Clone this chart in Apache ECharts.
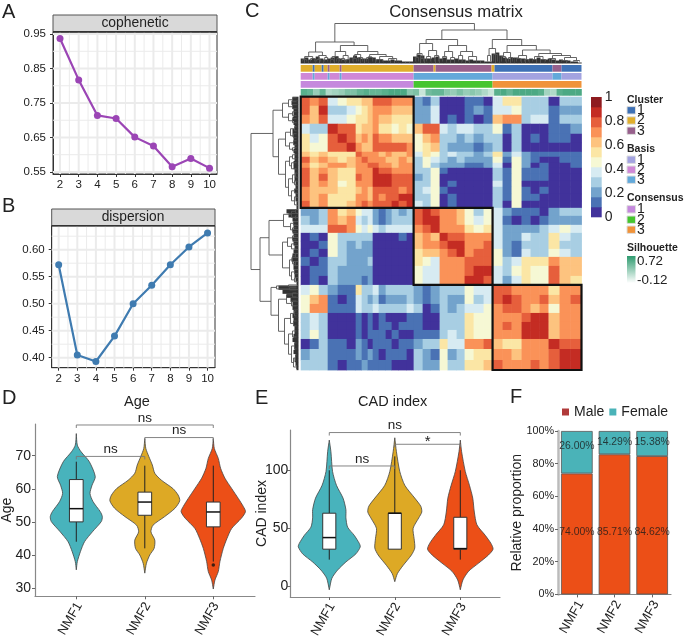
<!DOCTYPE html>
<html><head><meta charset="utf-8">
<script src="https://cdn.jsdelivr.net/npm/echarts@6/dist/echarts.min.js"></script>
<style>html,body{margin:0;padding:0;background:#fff}#c{width:685px;height:638px}</style>
</head><body><div id="c"></div>
<script>
const FONT='"Liberation Sans",Arial,sans-serif', INK='#222';
// ---------- A / B ----------
const rankValues=[2,3,4,5,6,7,8,9,10];
const copheneticValues=[.937,.817,.714,.705,.651,.625,.565,.589,.561];
const dispersionValues=[.572,.405,.393,.440,.500,.534,.572,.605,.631];
const copheneticTicks=[.55,.65,.75,.85,.95];
const copheneticMinor=[.6,.7,.8,.9];
const dispersionTicks=[.40,.45,.50,.55,.60];
const dispersionMinor=[.425,.475,.525,.575,.625];
const rankMinor=[2.5,3.5,4.5,5.5,6.5,7.5,8.5,9.5];
// ---------- D ----------
const groups=['NMF1','NMF2','NMF3'];
const ageViolin1=[[76.7,0],[73.2,.015],[71.2,.07],[68.2,.19],[63.7,.277],[61.1,.23],[58.6,.2],[56.1,.245],[53.1,.35],[51.6,.38],[50.1,.365],[47,.235],[44,.12],[41,.06],[38,.015],[35.5,0]];
const ageViolin2=[[75.2,0],[72.2,.015],[69.7,.06],[67.2,.11],[64.7,.146],[62.6,.243],[60.1,.41],[58.1,.487],[56.4,.51],[54.1,.44],[51.6,.29],[49,.12],[47,.09],[44.5,.146],[42,.136],[40,.073],[37.5,.024],[34.5,0]];
const ageViolin3=[[75.2,0],[72.2,.015],[69.2,.073],[66.2,.107],[63.2,.17],[60.1,.268],[57.1,.365],[54.6,.44],[53.1,.47],[51.1,.41],[48,.268],[45,.2],[42,.146],[38,.097],[35,.073],[32.4,.024],[29.7,0]];
const ageBoxes=[[44,50,54,62.8,68.2],[42,52,56,59,67],[38,48.5,53,56,67]];
const ageOutliers=[[3,37]];
const ageBrackets=[[1,3,79.3,'ns'],[2,3,75.5,'ns'],[1,2,69.8,'ns']];
// ---------- E ----------
const cadViolin1=[[126,0],[116,.025],[99,.05],[87,.11],[76,.21],[66,.254],[59,.254],[51,.28],[44,.38],[37,.458],[34,.473],[28,.407],[21,.254],[14,.127],[7,.04],[-3,0]];
const cadViolin2=[[128,0],[116,.025],[99,.076],[87,.153],[76,.305],[69,.397],[64,.412],[59,.366],[50,.28],[41,.295],[33,.305],[27,.254],[18,.127],[11,.04],[4,0]];
const cadViolin3=[[126,0],[116,.02],[99,.076],[87,.14],[76,.19],[64,.214],[53,.254],[44,.38],[37,.468],[32,.5],[27,.43],[20,.28],[13,.127],[5.5,.04],[-3,0]];
const cadBoxes=[[23,32,42,63,100],[32,32,63,63,112],[23,32,32.5,59.5,100]];
const cadBrackets=[[1,3,132.5,'ns'],[2,3,122.4,'*'],[1,2,103.7,'ns']];
const violinColors=['#48B3BC','#DDA925','#EC4F17'];
// ---------- F ----------
const maleShare=[74.00,85.71,84.62];
const femaleShare=[26.00,14.29,15.38];
const maleLabelY=[38,38,38];
const femaleLabelY=[90.8,93.2,93.2];
// ---------- C : consensus matrix ----------
const bandColors=['#41329B','#4A72B4','#73A3CC','#A8CEE3','#D7EBF2','#F6F8D4','#FBE6A5','#FDC37F','#FA9258','#E65F3C','#C42C23','#8E1B20'];
const colStrips=[9,9,9,10,9,9,6,6,5,6,7,6,7,8,7,9,8,9,8,9,8,9,10,9,10,9,10,9,9,9,11,11,11];
const rowStrips=[9,9,9,10,9,9,5,6,5,6,7,6,7,7,7,8,9,8,8,8,8,9,10,9,10,9,9,9,8,9,10,11,10];
const consensusBands=[
[9,8,9, 4,5,6, 6,7,7, 9,9,9, 8,8,8, 2,1,3, 0,0,0, 1,1,0, 4,6,6, 3,3,3, 0,3,3],
[9,7,10, 3,3,4, 5,6,7, 8,8,8, 7,7,7, 2,2,4, 0,0,0, 1,2,1, 4,4,5, 3,3,3, 1,2,2],
[8,7,9, 4,4,5, 6,6,7, 8,7,7, 6,6,6, 2,2,4, 0,1,0, 1,0,1, 7,8,8, 3,4,4, 1,3,3],
[4,3,3, 10,9,9, 6,7,7, 8,6,6, 5,6,5, 7,9,9, 4,3,4, 4,3,3, 5,1,3, 0,0,0, 1,1,2],
[6,4,5, 9,10,9, 7,8,7, 9,8,8, 7,7,7, 5,7,8, 3,3,2, 3,2,3, 3,0,3, 0,1,0, 1,1,0],
[6,5,5, 9,9,10, 8,7,7, 9,9,9, 9,9,8, 5,6,7, 3,2,2, 2,1,2, 3,0,3, 0,0,0, 0,0,0],
[7,6,7, 6,6,6, 9,8,8, 8,7,8, 7,7,8, 4,6,5, 3,4,3, 3,2,3, 6,2,4, 2,1,1, 1,1,1],
[9,7,8, 7,6,7, 8,9,8, 8,8,7, 7,8,7, 3,5,4, 3,2,3, 2,2,2, 5,1,5, 2,1,0, 0,1,1],
[8,6,7, 8,8,7, 8,8,9, 9,8,8, 7,8,8, 3,5,3, 2,2,2, 1,1,2, 4,0,5, 2,0,1, 0,0,1],
[9,7,8, 7,6,6, 8,8,8, 10,9,9, 8,8,8, 3,3,5, 1,0,0, 0,0,0, 3,1,5, 1,1,1, 0,0,0],
[9,7,9, 7,6,6, 9,8,8, 10,10,10, 9,9,9, 2,3,5, 0,0,0, 0,0,0, 3,1,5, 1,1,1, 0,0,0],
[9,7,8, 7,5,6, 8,8,8, 10,10,10, 9,9,9, 3,3,5, 0,1,0, 0,0,0, 4,1,5, 0,0,0, 0,0,0],
[8,7,7, 7,6,6, 7,8,7, 9,9,9, 9,8,9, 3,4,5, 1,0,0, 0,0,0, 3,1,5, 1,0,1, 0,0,0],
[8,7,8, 6,6,6, 8,8,7, 9,8,9, 9,10,10, 3,3,5, 0,1,0, 0,0,0, 3,1,5, 1,1,0, 0,0,0],
[9,7,8, 6,6,7, 8,9,8, 9,9,9, 10,9,10, 4,3,5, 0,1,0, 0,0,0, 3,0,5, 0,0,0, 0,0,0],
[2,2,3, 8,6,7, 5,4,4, 2,1,2, 3,2,3, 9,10,9, 8,8,7, 5,3,5, 4,2,1, 1,1,0, 2,3,3],
[3,2,3, 8,7,8, 4,3,4, 2,1,2, 3,3,3, 9,10,10, 8,8,7, 5,4,5, 4,1,0, 1,0,1, 2,2,2],
[4,4,4, 9,9,8, 5,4,5, 4,3,4, 4,4,4, 8,9,10, 8,8,8, 6,5,6, 4,2,2, 2,2,3, 4,5,4],
[0,1,0, 5,3,3, 3,3,3, 0,0,0, 0,1,0, 7,8,7, 10,9,9, 8,8,8, 4,2,2, 4,3,3, 6,4,3],
[0,0,1, 5,3,2, 3,2,2, 0,0,0, 0,0,0, 7,8,8, 9,10,10, 8,8,9, 4,2,1, 3,3,3, 6,3,3],
[0,1,0, 5,3,2, 2,2,2, 0,0,0, 0,0,0, 6,7,7, 8,9,10, 8,9,9, 5,2,1, 4,3,3, 5,4,3],
[1,0,1, 3,3,2, 2,2,3, 0,0,0, 0,0,0, 6,5,4, 8,8,8, 9,9,9, 5,3,4, 6,6,6, 8,7,7],
[0,1,1, 3,2,2, 2,2,2, 0,0,0, 0,0,0, 5,4,4, 8,8,8, 9,10,10, 4,3,5, 6,5,5, 9,7,7],
[0,1,0, 3,2,2, 2,1,2, 0,0,0, 0,0,0, 5,4,4, 8,8,8, 10,10,9, 4,2,4, 6,5,5, 9,7,6],
[4,5,3, 2,1,1, 6,3,3, 4,2,3, 3,3,3, 2,1,2, 3,3,3, 5,4,4, 9,9,8, 8,8,8, 6,8,8],
[5,7,8, 1,0,1, 4,3,2, 3,1,2, 2,2,3, 2,1,2, 3,2,2, 5,3,4, 9,10,9, 8,8,9, 7,8,9],
[5,8,8, 1,1,1, 4,3,3, 4,3,3, 3,3,4, 3,0,1, 3,2,3, 4,4,5, 8,9,9, 8,7,8, 5,8,8],
[3,4,3, 0,0,0, 1,0,1, 0,1,0, 0,0,1, 1,0,0, 3,3,3, 6,5,5, 8,8,8, 9,10,10, 7,8,8],
[3,4,3, 0,0,0, 1,0,1, 0,1,1, 0,1,1, 1,0,0, 3,3,3, 6,5,5, 8,9,8, 10,10,10, 7,8,8],
[3,5,3, 0,0,0, 1,0,1, 1,1,0, 1,0,0, 1,1,1, 3,4,3, 6,5,5, 8,8,8, 10,10,10, 7,8,8],
[0,1,3, 1,1,0, 2,1,0, 1,1,1, 0,1,1, 2,3,3, 6,4,4, 8,8,9, 7,6,6, 8,8,8, 10,9,9],
[2,3,3, 1,1,1, 2,1,2, 1,0,1, 1,1,0, 3,2,1, 5,2,3, 5,6,6, 8,8,7, 8,8,8, 9,10,10],
[3,3,3, 1,0,1, 1,2,1, 1,1,1, 0,0,0, 3,2,2, 5,3,3, 6,6,7, 9,8,8, 8,9,8, 9,10,10]];
const clusterColEdges=[0,113,192,281];
const clusterRowEdges=[0,111,188,273];
const clusterColors=['#3E71B5','#E0AE2C','#97608C'];
const basisColors=['#A3A3E0','#CF88D6','#63A9DA'];
const consensusColors=['#C589DD','#46C52F','#F0933A'];
const clusterTrack=[[0,12,1],[12,14,0],[14,21,1],[21,23,0],[23,27,1],[27,29,2],[29,39,1],[39,41,2],[41,113,1],[113,133,2],[133,135,1],[135,191,2],[191,194,1],[194,252,0],[252,261,2],[261,281,0]];
const basisTrack=[[0,12,1],[12,14,2],[14,27,1],[27,29,2],[29,39,1],[39,41,2],[41,113,1],[113,192,2],[192,252,0],[252,261,2],[261,281,0]];
const consensusTrack=[[0,113,0],[113,192,1],[192,281,2]];
const silhouetteRange=[-0.12,0.72];
const silhouetteStrips=[.55,.5,.3,.5,.2,.25,.3,.4,.4,.5,.55,.5,.5,.55,.6,.6,.6,.35,.4,.1,.45,.5,.5,.35,.3,.4,.3,.35,.3,.2,.1,.55,.6,.5,.6,.6,.6,.6,.55,.25,.2,.55,.6,.6,.6];
const topLeafBand=[5,6,4,5,7,5,4,5,6,7,5,4,4,6,8,6,5,5,7,6,4,4,3,3,4,3,3,2,2,2,7,9,8,5,5,6,7,5,6,4,4,5,4,4,3,4,3,3,3,2,2,10,11,8,6,5,6,6,5,5,4,5,4,6,4,4,5,4,3,4,3,3,2,2,1];
const leftLeafBand=[6,7,6,5,5,6,5,4,6,6,5,5,4,5,4,4,5,5,4,4,4,3,3,4,3,3,2,2,12,10,6,5,5,6,5,6,5,4,5,6,7,5,5,4,4,3,2,20,16,12,8,6,6,5,6,5,5,4,4,5,6,4,4,5,3,4,3,2];
const topTree=[40,
 [21.5,[11.5,[7,[4,2,6],[5,10,14]],[8,[4,16,20],[6,24,27]]],
       [18,[12,[7,[4,30,33],[5,36,39]],[8,[5,41,44],[4,46,49]]],[12,[9,[5,52,56],[6,58,62]],[9,[6,66,72],[7,[4,76,82],[5,88,96]]]]]],
 [33.5,[24,[20,[10,[6,115,118],[5,120,123]],[13,[7,126,130],[8,134,138]]],[18,[12,[7,142,146],[6,150,154]],[12,[8,158,162],[7,168,176]]]],
       [24,[15,[8,187,190],[9,193,197]],[18,[11,[7,201,205],[6,208,212]],[13.5,[8,[5,216,220],[4,224,228]],[10,[7,[4,232,236],[4,240,245]],[8,[5,249,255],[6,[3,261,267],[3,273,279]]]]]]]]];
const leftTree=[47.5,
 [25.5,[16,[10,[6,1,5],[6,8,12]],[10,[6,15,19],[6,22,26]]],
       [20,[13,[8,[4,30,34],[5,37,41]],[9,[5,44,48],[6,51,54]]],[13,[9,[6,58,62],[7,66,72]],[10,[6,[3,76,80],[4,84,88]],[7,[4,92,96],[4,100,108]]]]]],
 [38.5,[29.5,[15,[7,[3,113,116],[3,119,122]],[8,[5,125,128],[6,131,135]]],[16,[11,[6,139,143],[7,147,152]],[9,[6,[3,157,161],[3,165,169]],[7,[4,173,177],[4,181,185]]]]],
       [27.5,[22,[10,188,190],[9,191,193]],[20,[12,[6,196,200],[7,204,209]],[14,[8,[4,214,219],[5,224,229]],[10,[6,234,240],[7,[4,246,252],[5,[3,258,264],[2,268,272]]]]]]]]];

// ---------- helpers ----------
function cum(a){const o=[0];a.forEach(v=>o.push(o[o.length-1]+v));return o;}
const colEdges=cum(colStrips), rowEdges=cum(rowStrips);
function custom(g,items,draw,z){return {type:'custom',xAxisIndex:g,yAxisIndex:g,silent:true,animation:false,clip:false,z:z||2,
  data:items.map((_,i)=>[i]),renderItem:(p,api)=>draw(items[p.dataIndex],api,p)};}
function seg(a,b,color,w){return {type:'line',shape:{x1:a[0],y1:a[1],x2:b[0],y2:b[1]},style:{stroke:color,lineWidth:w}};}
function gridLines(g,major,minor){
  const items=[];
  [[minor,1],[major,2]].forEach(([s,w])=>{s.x.forEach(v=>items.push(['x',v,w]));s.y.forEach(v=>items.push(['y',v,w]));});
  return custom(g,items,(it,api,p)=>{const r=p.coordSys;
    if(it[0]==='x'){const x=api.coord([it[1],0])[0];return seg([x,r.y],[x,r.y+r.height],'#EBEBEB',it[2]);}
    const y=api.coord([0,it[1]])[1];return seg([r.x,y],[r.x+r.width,y],'#EBEBEB',it[2]);},1);}
function violins(g,profiles){return custom(g,profiles.map((p,i)=>[i,p]),(it,api)=>{
  const c=it[0]+1,p=it[1],pts=[];
  p.forEach(d=>pts.push(api.coord([c-d[1],d[0]])));
  p.slice().reverse().forEach(d=>pts.push(api.coord([c+d[1],d[0]])));
  return {type:'polygon',shape:{points:pts,smooth:.25},style:{fill:violinColors[it[0]],stroke:'#444',lineWidth:.8}};},2);}
function boxes(g,data,hw){return custom(g,data.map((b,i)=>[i,b]),(it,api)=>{
  const c=it[0]+1,b=it[1],P=(x,y)=>api.coord([x,y]);
  const tl=P(c-hw,b[3]),br=P(c+hw,b[1]);
  return {type:'group',children:[
    seg(P(c,b[0]),P(c,b[1]),'#222',1),seg(P(c,b[3]),P(c,b[4]),'#222',1),
    {type:'rect',shape:{x:tl[0],y:tl[1],width:br[0]-tl[0],height:br[1]-tl[1]},style:{fill:'#fff',stroke:'#333',lineWidth:1}},
    seg(P(c-hw,b[2]),P(c+hw,b[2]),'#111',1.5)]};},3);}
function brackets(g,data,drop){return custom(g,data,(b,api)=>{
  const a=api.coord([b[0],b[2]]),e=api.coord([b[1],b[2]]),star=b[3]==='*';
  return {type:'group',children:[
    {type:'polyline',shape:{points:[[a[0],a[1]+drop],a,e,[e[0],e[1]+drop]]},style:{fill:'none',stroke:'#777',lineWidth:.9}},
    {type:'text',style:{text:b[3],x:(a[0]+e[0])/2,y:a[1]-(star?2.5:7),align:'center',verticalAlign:'middle',textAlign:'center',textVerticalAlign:'middle',fontSize:star?15:13.5,fontFamily:FONT,fill:INK}}]};},4);}
function treeSegs(node,out){ if(typeof node==='number') return {p:node,h:2};
  const a=treeSegs(node[1],out),b=treeSegs(node[2],out),h=node[0];
  out.push([a.p,b.p,a.h,b.h,h]); return {p:(a.p+b.p)/2,h};}
const topMerges=[],leftMerges=[];treeSegs(topTree,topMerges);treeSegs(leftTree,leftMerges);

// ---------- layout ----------
const box=(l,t,w,h,extra)=>Object.assign({left:l,top:t,width:w,height:h,containLabel:false,outerBoundsMode:'none'},extra||{});
const grids=[
 box(53,32,164,142,{show:true,borderColor:'#333',borderWidth:1,backgroundColor:'#fff'}),
 box(51.7,225.7,163.3,142,{show:true,borderColor:'#333',borderWidth:1,backgroundColor:'#fff'}),
 box(35,424,220,172.3),
 box(290.3,430,209.7,167),
 box(558,431,113,163.4),
 box(300.7,96.7,280.8,273.3),
 box(300.7,65,280.8,31),
 box(300.7,20,280.8,43.5),
 box(250,96.7,48.5,273.3),
 box(591,97,10.7,120)
];
const hidden=(min,max,inv)=>({type:'value',min,max,inverse:!!inv,show:false,splitLine:{show:false}});
const lab=(size,fmt,m)=>({show:true,fontSize:size,color:INK,fontFamily:FONT,margin:m||4,formatter:fmt});
function rankAxis(){return {type:'value',min:1.625,max:10.4,
  axisLine:{show:true,onZero:false,lineStyle:{color:'#333'}},axisTick:{show:true,length:3,lineStyle:{color:'#333'},customValues:rankValues},
  axisLabel:Object.assign(lab(11.5,v=>String(v),5),{customValues:rankValues}),splitLine:{show:false}};}
function tickAxisY(min,max,ticks,fmt){return {type:'value',min,max,
  axisLine:{show:true,onZero:false,lineStyle:{color:'#333'}},axisTick:{show:true,length:3,lineStyle:{color:'#333'},customValues:ticks},
  axisLabel:Object.assign(lab(11.5,fmt,7),{customValues:ticks}),splitLine:{show:false}};}
const rotatedLabel=(pad,margin)=>({rotate:60,align:'center',verticalAlign:'middle',padding:[0,pad,0,0],margin});
function groupAxis(min,max){return {type:'value',min,max,
  axisLine:{show:true,onZero:false,lineStyle:{color:'#888',width:1.2}},axisTick:{show:true,length:3,lineStyle:{color:'#666'},customValues:[1,2,3]},
  axisLabel:Object.assign(lab(13,v=>groups[v-1]),{customValues:[1,2,3]},rotatedLabel(24,12)),splitLine:{show:false}};}
function violinY(min,max,ticks,name,m){return {type:'value',min,max,name,nameLocation:'middle',nameGap:21,nameMoveOverlap:false,
  nameTextStyle:{fontSize:14,color:INK,fontFamily:FONT},
  axisLine:{show:true,onZero:false,lineStyle:{color:'#888',width:1.2}},axisTick:{show:true,length:3,lineStyle:{color:'#666'},customValues:ticks},
  axisLabel:Object.assign(lab(14,v=>String(v)),{customValues:ticks,margin:m}),splitLine:{show:false}};}

const xAxes=[rankAxis(),rankAxis(),groupAxis(.397,3.609),groupAxis(.405,3.606),
 {type:'category',data:groups,axisLine:{show:true,onZero:false,lineStyle:{color:'#888',width:1.2}},axisTick:{show:true,length:3,alignWithLabel:true,lineStyle:{color:'#666'}},
  axisLabel:Object.assign(lab(13,v=>v),rotatedLabel(20,14))},
 hidden(0,281),hidden(0,281),hidden(0,281),hidden(0,48.5,true),hidden(0,1)];
const yAxes=[tickAxisY(.544,.956,copheneticTicks,v=>v.toFixed(2)),tickAxisY(.3815,.6444,dispersionTicks,v=>v.toFixed(2)),
 violinY(27.5,79.6,[30,40,50,60,70],'Age',4),violinY(-9.2,134.7,[0,50,100],'CAD index',2),
 {type:'value',min:0,max:100,interval:20,name:'Relative proportion',nameLocation:'middle',nameGap:34,nameMoveOverlap:false,nameTextStyle:{fontSize:14,color:INK,fontFamily:FONT},
  axisLine:{show:true,onZero:false,lineStyle:{color:'#bbb',width:2.5}},axisTick:{show:true,length:3,lineStyle:{color:'#666'}},axisLabel:lab(10.8,v=>v+'%'),splitLine:{show:false}},
 hidden(0,273,true),hidden(0,3.875,true),hidden(0,43.5),hidden(0,273,true),
 {type:'value',min:0,max:1,interval:.2,position:'right',axisLine:{show:false},axisTick:{show:false},axisLabel:Object.assign(lab(14,v=>String(+v.toFixed(1))),{margin:3}),splitLine:{show:false}}];

const cells=[];consensusBands.forEach((row,r)=>row.forEach((b,c)=>cells.push([c,r,b])));
const S=[];
S.push(gridLines(0,{x:rankValues,y:copheneticTicks},{x:rankMinor,y:copheneticMinor}));
S.push({type:'line',xAxisIndex:0,yAxisIndex:0,animation:false,data:rankValues.map((x,i)=>[x,copheneticValues[i]]),symbol:'circle',symbolSize:7,lineStyle:{color:'#9B45B5',width:2.2},itemStyle:{color:'#9B45B5'},z:3,silent:true});
S.push(gridLines(1,{x:rankValues,y:dispersionTicks},{x:rankMinor,y:dispersionMinor}));
S.push({type:'line',xAxisIndex:1,yAxisIndex:1,animation:false,data:rankValues.map((x,i)=>[x,dispersionValues[i]]),symbol:'circle',symbolSize:7,lineStyle:{color:'#3F7BB0',width:2.2},itemStyle:{color:'#3F7BB0'},z:3,silent:true});
S.push(violins(2,[ageViolin1,ageViolin2,ageViolin3]),boxes(2,ageBoxes,.1),brackets(2,ageBrackets,3));
S.push({type:'scatter',xAxisIndex:2,yAxisIndex:2,animation:false,silent:true,z:5,data:ageOutliers,symbolSize:3.5,itemStyle:{color:'#111'}});
S.push(violins(3,[cadViolin1,cadViolin2,cadViolin3]),boxes(3,cadBoxes,.1),brackets(3,cadBrackets,3));
S.push({name:'Male',type:'bar',stack:'s',xAxisIndex:4,yAxisIndex:4,barWidth:'84%',animation:false,silent:true,data:maleShare,itemStyle:{color:'#EC4F17',borderColor:'#555',borderWidth:.8}});
S.push({name:'Female',type:'bar',stack:'s',xAxisIndex:4,yAxisIndex:4,barWidth:'84%',animation:false,silent:true,data:femaleShare,itemStyle:{color:'#4AB3B8',borderColor:'#555',borderWidth:.8}});
const fLabel=(vals,ys)=>({type:'scatter',xAxisIndex:4,yAxisIndex:4,animation:false,silent:true,z:6,symbolSize:1,itemStyle:{color:'transparent'},
  data:ys.map((y,i)=>({value:[i,y],txt:vals[i].toFixed(2)+'%'})),
  label:{show:true,position:'inside',fontSize:10.4,color:'#1a1a1a',fontFamily:FONT,formatter:p=>p.data.txt}});
S.push(fLabel(maleShare,maleLabelY),fLabel(femaleShare,femaleLabelY));
S.push(custom(5,cells,(c,api)=>{const a=api.coord([colEdges[c[0]],rowEdges[c[1]]]),b=api.coord([colEdges[c[0]+1],rowEdges[c[1]+1]]);
  return {type:'rect',shape:{x:a[0],y:a[1],width:b[0]-a[0]+.4,height:b[1]-a[1]+.4},style:{fill:bandColors[c[2]]}};},2));
S.push(custom(5,[0,1,2],(i,api)=>{const a=api.coord([clusterColEdges[i],clusterRowEdges[i]]),b=api.coord([clusterColEdges[i+1],clusterRowEdges[i+1]]);
  return {type:'rect',shape:{x:a[0],y:a[1],width:b[0]-a[0],height:b[1]-a[1]},style:{fill:'none',stroke:'#111',lineWidth:2.2}};},4));
function track(row,segs,colors){return custom(6,segs,(s,api)=>{const a=api.coord([s[0],row]),b=api.coord([s[1],row+.84]);
  return {type:'rect',shape:{x:a[0],y:a[1],width:b[0]-a[0],height:b[1]-a[1]},style:{fill:colors[s[2]]}};});}
S.push(track(0,clusterTrack,clusterColors),track(1,basisTrack,basisColors),track(2,consensusTrack,consensusColors));
const silStep=281/silhouetteStrips.length;
S.push(custom(6,silhouetteStrips.map((v,i)=>[i,v]),(it,api)=>{const a=api.coord([it[0]*silStep,3]),b=api.coord([(it[0]+1)*silStep,3.84]);
  const t=(it[1]-silhouetteRange[0])/(silhouetteRange[1]-silhouetteRange[0]);
  return {type:'rect',shape:{x:a[0],y:a[1],width:b[0]-a[0]+.3,height:b[1]-a[1]},style:{fill:echarts.color.lerp(t,['#ffffff','#2E9B6F'])}};}));
const DC='#555';
const topStep=281/topLeafBand.length, leftStep=273/leftLeafBand.length;
S.push(custom(7,topLeafBand.map((h,i)=>[i,h]),(it,api)=>{const a=api.coord([it[0]*topStep,it[1]]),b=api.coord([(it[0]+1)*topStep,0]);
  return {type:'rect',shape:{x:a[0],y:a[1],width:b[0]-a[0]+.2,height:b[1]-a[1]},style:{fill:'#333'}};}));
S.push(custom(7,topMerges,(m,api)=>({type:'polyline',shape:{points:[api.coord([m[0],m[2]]),api.coord([m[0],m[4]]),api.coord([m[1],m[4]]),api.coord([m[1],m[3]])]},style:{fill:'none',stroke:DC,lineWidth:.9}})));
S.push(custom(8,leftLeafBand.map((h,i)=>[i,h]),(it,api)=>{const a=api.coord([it[1],it[0]*leftStep]),b=api.coord([0,(it[0]+1)*leftStep]);
  return {type:'rect',shape:{x:a[0],y:a[1],width:b[0]-a[0],height:b[1]-a[1]+.2},style:{fill:'#333'}};}));
S.push(custom(8,leftMerges,(m,api)=>({type:'polyline',shape:{points:[api.coord([m[2],m[0]]),api.coord([m[4],m[0]]),api.coord([m[4],m[1]]),api.coord([m[3],m[1]])]},style:{fill:'none',stroke:DC,lineWidth:.9}})));
S.push(custom(9,bandColors.map((c,i)=>[c,i]),(it,api)=>{const a=api.coord([0,(it[1]+1)/12]),b=api.coord([1,it[1]/12]);
  return {type:'rect',shape:{x:a[0],y:a[1],width:b[0]-a[0],height:b[1]-a[1]+.3},style:{fill:it[0]}};}));

function T(x,y,text,size,o){o=o||{};const al=o.align||'left';return {type:'text',x,y,silent:true,z:50,style:{text,fontSize:size,fontFamily:FONT,fontWeight:o.weight||'normal',fill:o.fill||INK,align:al,textAlign:al,verticalAlign:'middle',textVerticalAlign:'middle'}};}
function R(x,y,w,h,fill,stroke){return {type:'rect',silent:true,z:40,shape:{x,y,width:w,height:h},style:{fill,stroke:stroke||null,lineWidth:stroke?1:0}};}
const G=[
 T(2,12,'A',20),T(2,206,'B',20),T(245,11,'C',20),T(2,398,'D',20),T(255,398,'E',20),T(510,397,'F',20),
 R(53,15,164,17,'#D9D9D9','#555'),T(135,23.5,'cophenetic',13.9,{align:'center'}),
 R(51.7,209,163.3,16.7,'#D9D9D9','#555'),T(133,217.5,'dispersion',13.75,{align:'center'}),
 R(53,31,164,1.6,'#333'),R(51.7,225,163.3,1.6,'#333'),
 T(456,12,'Consensus matrix',16.7,{align:'center'}),
 T(137,402,'Age',14.5,{align:'center'}),T(392.7,401.7,'CAD index',14.5,{align:'center'})
];
function legendBlock(title,yTitle,ys,colors){G.push(T(627,yTitle,title,10.5,{weight:'bold'}));
  ys.forEach((y,i)=>{G.push(R(627,y-3.7,8.5,7.4,colors[i],'#ddd'));G.push(T(637,y,String(i+1),14));});}
legendBlock('Cluster',100,[110.3,120.5,130.7],clusterColors);
legendBlock('Basis',149,[159.7,169.7,179.7],basisColors);
legendBlock('Consensus',198,[209.3,219.7,229.7],consensusColors);
G.push(T(627,248,'Silhouette',10.5,{weight:'bold'}));
G.push({type:'rect',silent:true,z:40,shape:{x:627,y:256,width:8.5,height:27},style:{fill:new echarts.graphic.LinearGradient(0,0,0,1,[{offset:0,color:'#2E9B6F'},{offset:1,color:'#ffffff'}])}});
G.push(T(637,261,'0.72',13.4),T(637,280,'-0.12',13.4));

const chart=echarts.init(document.getElementById('c'),null,{renderer:'canvas'});
chart.setOption({animation:false,backgroundColor:'#fff',textStyle:{fontFamily:FONT},
 grid:grids,xAxis:xAxes.map((a,i)=>Object.assign(a,{gridIndex:i})),yAxis:yAxes.map((a,i)=>Object.assign(a,{gridIndex:i})),
 legend:{show:true,left:562,top:405,padding:0,itemWidth:7,itemHeight:7,itemGap:5,icon:'rect',selectedMode:false,textStyle:{fontSize:14,color:INK,fontFamily:FONT},
   data:[{name:'Male',itemStyle:{color:'#B03A3A',borderWidth:0}},{name:'Female',itemStyle:{color:'#4AB3B8',borderWidth:0}}]},
 series:S,graphic:{elements:G}});
</script></body></html>
